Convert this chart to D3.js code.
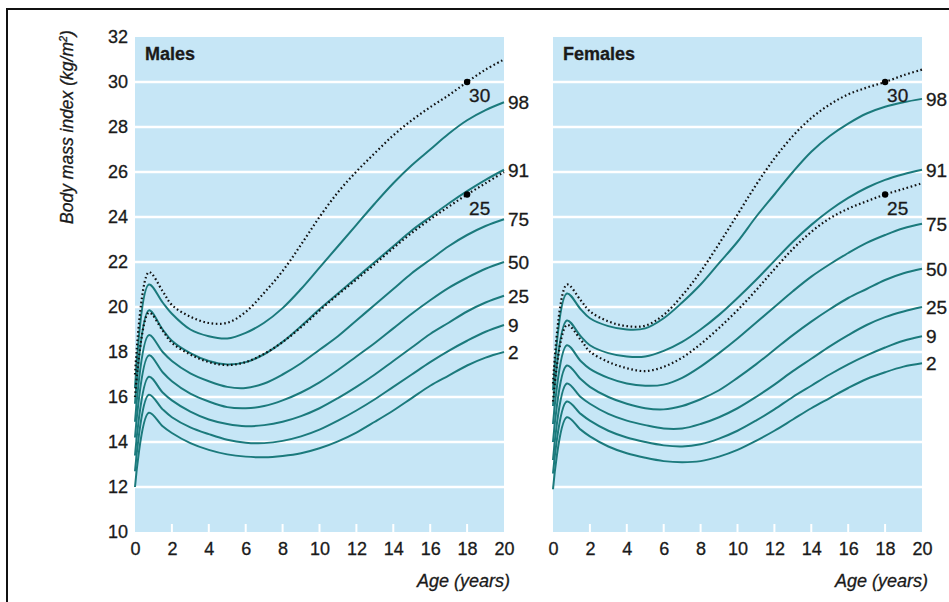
<!DOCTYPE html>
<html>
<head>
<meta charset="utf-8">
<script src="https://cdn.jsdelivr.net/npm/d3@7"></script>
<style>
  body { margin: 0; background: #fff; }
  text { font-family: "Liberation Sans", Arial, sans-serif; fill: #1a1a1a; stroke: #1a1a1a; stroke-width: 0.3px; }
</style>
</head>
<body>
<svg id="chart" width="949" height="602"></svg>
<script>
var ages = [0, 0.75, 1.5, 2, 3, 4, 5, 6, 7, 8, 9, 10, 11, 12, 13, 14, 15, 16, 17, 18, 19, 20];

var centiles = ["98", "91", "75", "50", "25", "9", "2"];
var cutoffs = ["30", "25"];
var xTicks = [0, 2, 4, 6, 8, 10, 12, 14, 16, 18, 20];
var yTicks = [10, 12, 14, 16, 18, 20, 22, 24, 26, 28, 30, 32];

// males, BMI centiles
var males98 = [16.4, 21.0, 20.2, 19.7, 19.0, 18.7, 18.6, 18.85, 19.3, 19.95, 20.8, 21.75, 22.7, 23.65, 24.6, 25.5, 26.3, 27.0, 27.7, 28.3, 28.75, 29.1];
var males91 = [15.7, 19.85, 19.0, 18.5, 17.95, 17.6, 17.45, 17.55, 17.9, 18.45, 19.15, 19.9, 20.6, 21.3, 22.0, 22.7, 23.4, 24.0, 24.6, 25.15, 25.65, 26.1];
var males75 = [14.9, 18.75, 18.0, 17.6, 17.05, 16.7, 16.45, 16.4, 16.6, 17.0, 17.5, 18.1, 18.7, 19.4, 20.1, 20.8, 21.5, 22.1, 22.7, 23.2, 23.6, 23.9];
var males50 = [14.2, 17.85, 17.1, 16.7, 16.15, 15.8, 15.55, 15.5, 15.6, 15.85, 16.2, 16.65, 17.2, 17.8, 18.4, 19.05, 19.7, 20.3, 20.85, 21.3, 21.7, 22.0];
var males25 = [13.4, 16.9, 16.2, 15.85, 15.35, 15.0, 14.8, 14.7, 14.75, 14.9, 15.15, 15.5, 15.95, 16.45, 17.0, 17.6, 18.2, 18.8, 19.3, 19.8, 20.2, 20.5];
var males9 = [12.7, 16.1, 15.45, 15.1, 14.65, 14.35, 14.1, 13.97, 13.95, 14.05, 14.25, 14.55, 14.95, 15.4, 15.9, 16.45, 17.0, 17.55, 18.05, 18.5, 18.9, 19.2];
var males2 = [12.0, 15.3, 14.7, 14.4, 13.95, 13.65, 13.45, 13.35, 13.32, 13.38, 13.5, 13.72, 14.03, 14.42, 14.9, 15.4, 15.95, 16.5, 16.95, 17.4, 17.75, 18.0];
// males, adult cut-off curves (BMI 30 and 25 at 18)
var malesCut30 = [17.0, 21.55, 20.7, 20.09, 19.57, 19.29, 19.30, 19.78, 20.63, 21.60, 22.77, 24.00, 25.10, 26.02, 26.84, 27.63, 28.30, 28.88, 29.41, 30.00, 30.55, 31.0];
var malesCut25 = [16.0, 19.75, 18.95, 18.41, 17.89, 17.55, 17.42, 17.55, 17.92, 18.44, 19.10, 19.84, 20.55, 21.22, 21.91, 22.62, 23.29, 23.90, 24.46, 25.00, 25.5, 26.0];

// females, BMI centiles
var females98 = [16.3, 20.6, 19.9, 19.5, 19.15, 19.0, 19.05, 19.5, 20.2, 21.0, 21.95, 22.9, 24.0, 25.0, 26.0, 26.9, 27.6, 28.15, 28.6, 28.9, 29.1, 29.25];
var females91 = [15.6, 19.4, 18.7, 18.3, 17.95, 17.8, 17.8, 18.05, 18.45, 19.0, 19.65, 20.4, 21.2, 22.05, 22.9, 23.65, 24.3, 24.85, 25.3, 25.65, 25.9, 26.1];
var females75 = [14.8, 18.3, 17.6, 17.25, 16.85, 16.6, 16.5, 16.55, 16.85, 17.35, 17.95, 18.6, 19.3, 20.0, 20.7, 21.35, 21.9, 22.4, 22.85, 23.2, 23.5, 23.7];
var females50 = [14.0, 17.4, 16.8, 16.45, 16.0, 15.7, 15.5, 15.45, 15.6, 15.9, 16.3, 16.85, 17.45, 18.1, 18.75, 19.35, 19.9, 20.4, 20.8, 21.2, 21.5, 21.7];
var females25 = [13.2, 16.6, 16.0, 15.7, 15.25, 14.95, 14.75, 14.6, 14.6, 14.8, 15.1, 15.5, 16.0, 16.55, 17.15, 17.7, 18.25, 18.75, 19.2, 19.55, 19.8, 20.0];
var females9 = [12.6, 15.8, 15.25, 14.95, 14.5, 14.2, 14.0, 13.85, 13.8, 13.9, 14.15, 14.5, 14.95, 15.45, 16.0, 16.5, 17.0, 17.45, 17.85, 18.2, 18.5, 18.7];
var females2 = [11.9, 15.1, 14.55, 14.25, 13.8, 13.5, 13.3, 13.15, 13.1, 13.15, 13.35, 13.65, 14.05, 14.5, 15.0, 15.5, 15.95, 16.4, 16.8, 17.1, 17.35, 17.5];
var femalesCut30 = [16.6, 21.0, 20.3, 19.81, 19.36, 19.15, 19.17, 19.65, 20.51, 21.57, 22.81, 24.11, 25.42, 26.6, 27.6, 28.4, 29.0, 29.45, 29.75, 30.00, 30.3, 30.55];
var femalesCut25 = [15.8, 19.2, 18.55, 18.02, 17.56, 17.28, 17.15, 17.34, 17.75, 18.35, 19.07, 19.86, 20.74, 21.68, 22.58, 23.34, 23.94, 24.37, 24.70, 25.00, 25.25, 25.5];

var panels = [
  { title: "Males", left: 135, right: 504,
    lines: [males98, males91, males75, males50, males25, males9, males2],
    cuts: [malesCut30, malesCut25] },
  { title: "Females", left: 553, right: 922,
    lines: [females98, females91, females75, females50, females25, females9, females2],
    cuts: [femalesCut30, femalesCut25] }
];

var teal = "#1b7a7c";
var blue = "#c6e6f6";

var svg = d3.select("#chart");

// outer frame (only top and left edges show)
svg.append("path")
  .attr("d", "M7,602V9H949")
  .attr("fill", "none")
  .attr("stroke", "#111")
  .attr("stroke-width", 2);

var y = d3.scaleLinear().domain([10, 32]).range([532, 37]);

panels.forEach(function(p, pi) {
  var x = d3.scaleLinear().domain([0, 20]).range([p.left, p.right]);
  var g = svg.append("g");

  g.append("rect")
    .attr("x", x(0)).attr("y", y(32))
    .attr("width", x(20) - x(0)).attr("height", y(10) - y(32))
    .attr("fill", blue);

  // white grid
  g.selectAll(".grid")
    .data(yTicks.filter(function(d) { return d > 10 && d < 32; }))
    .enter().append("line")
    .attr("x1", x(0)).attr("x2", x(20))
    .attr("y1", function(d) { return y(d); })
    .attr("y2", function(d) { return y(d); })
    .attr("stroke", "#fff")
    .attr("stroke-width", 2.5);

  // little white ticks along the bottom
  g.selectAll(".tk")
    .data(xTicks.slice(1, -1))
    .enter().append("line")
    .attr("x1", function(d) { return x(d); })
    .attr("x2", function(d) { return x(d); })
    .attr("y1", y(10)).attr("y2", y(10) - 8)
    .attr("stroke", "#fff")
    .attr("stroke-width", 2);

  var xAxis = g.append("g")
    .attr("transform", "translate(0," + y(10) + ")")
    .call(d3.axisBottom(x).tickValues(xTicks).tickSize(0).tickPadding(10));
  xAxis.select(".domain").remove();
  xAxis.selectAll("text").attr("font-size", 18).attr("fill", "#1a1a1a")
    .attr("font-family", "Liberation Sans, Arial, sans-serif");

  if (pi === 0) {
    var yAxis = g.append("g")
      .attr("transform", "translate(" + x(0) + ",0)")
      .call(d3.axisLeft(y).tickValues(yTicks).tickSize(0).tickPadding(7));
    yAxis.select(".domain").remove();
    yAxis.selectAll("text").attr("font-size", 18).attr("fill", "#1a1a1a")
      .attr("font-family", "Liberation Sans, Arial, sans-serif");
  }

  g.append("text")
    .attr("x", x(0) + 10).attr("y", y(32) + 23)
    .attr("font-size", 18).attr("font-weight", "bold")
    .text(p.title);

  g.append("text")
    .attr("x", x(20) + 6).attr("y", 587)
    .attr("text-anchor", "end")
    .attr("font-size", 18).attr("font-style", "italic")
    .text("Age (years)");

  var line = d3.line()
    .x(function(d, i) { return x(ages[i]); })
    .y(function(d) { return y(d); })
    .curve(d3.curveCatmullRom.alpha(0.5));

  g.selectAll(".cent")
    .data(p.lines)
    .enter().append("path")
    .attr("d", line)
    .attr("fill", "none")
    .attr("stroke", teal)
    .attr("stroke-width", 2);

  g.selectAll(".cut")
    .data(p.cuts)
    .enter().append("path")
    .attr("d", line)
    .attr("fill", "none")
    .attr("stroke", "#111")
    .attr("stroke-width", 2.2)
    .attr("stroke-dasharray", "1.6,2.6");

  g.selectAll(".clab")
    .data(p.lines)
    .enter().append("text")
    .attr("x", x(20) + 4)
    .attr("y", function(d) { return y(d[d.length - 1]); })
    .attr("dy", "0.36em")
    .attr("font-size", 19)
    .text(function(d, i) { return centiles[i]; });

  var i18 = ages.indexOf(18);
  g.selectAll(".dot")
    .data(p.cuts)
    .enter().append("circle")
    .attr("cx", x(18))
    .attr("cy", function(d) { return y(d[i18]); })
    .attr("r", 3.2)
    .attr("fill", "#000");

  g.selectAll(".dlab")
    .data(p.cuts)
    .enter().append("text")
    .attr("x", x(18) + 2)
    .attr("y", function(d) { return y(d[i18]) + 20; })
    .attr("font-size", 19)
    .text(function(d, i) { return cutoffs[i]; });
});

svg.append("text")
  .attr("transform", "translate(73,127) rotate(-90)")
  .attr("text-anchor", "middle")
  .attr("font-size", 17.5)
  .attr("font-style", "italic")
  .text("Body mass index (kg/m")
  .append("tspan").attr("baseline-shift", "super").attr("font-size", 11).text("2")
  .select(function() { return this.parentNode; })
  .append("tspan").text(")");
</script>
</body>
</html>
